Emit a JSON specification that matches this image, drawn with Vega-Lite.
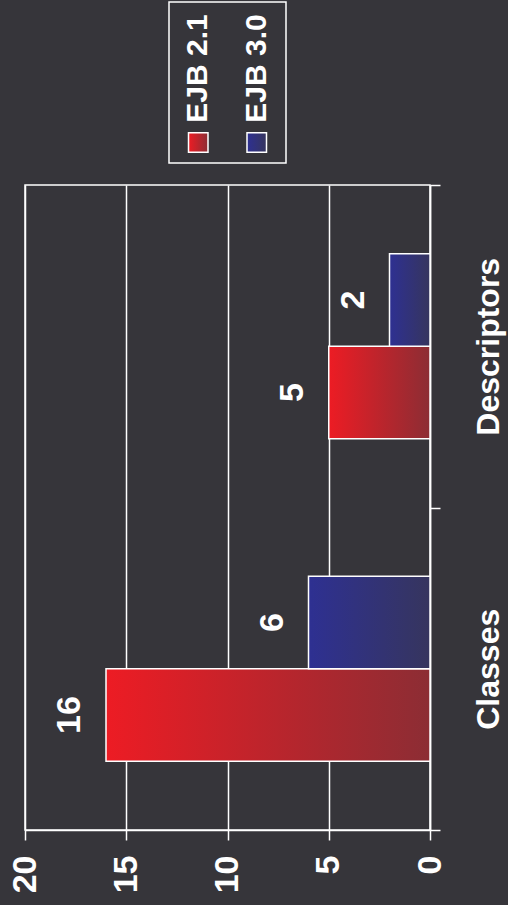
{
  "$schema": "https://vega.github.io/schema/vega-lite/v6.json",
  "autosize": "pad",
  "padding": {"left": 7, "top": 1, "right": 3, "bottom": 12},
  "background": "#36353A",
  "data": {
    "values": [
      {"category": "Classes", "series": "EJB 2.1", "value": 16},
      {"category": "Classes", "series": "EJB 3.0", "value": 6},
      {"category": "Descriptors", "series": "EJB 2.1", "value": 5},
      {"category": "Descriptors", "series": "EJB 3.0", "value": 2}
    ]
  },
  "bounds": "flush",
  "spacing": 183,
  "vconcat": [
    {
      "bounds": "flush",
      "spacing": 0,
      "hconcat": [
        {
          "width": 144,
          "height": 161,
          "data": {"values": []},
          "view": {"stroke": null},
          "mark": {"type": "point", "opacity": 0},
          "encoding": {}
        },
        {
          "width": 117,
          "height": 161,
          "transform": [{"aggregate": [{"op": "count", "as": "n"}], "groupby": ["series"]}],
          "encoding": {
            "x": {
              "field": "series",
              "type": "nominal",
              "sort": ["EJB 2.1", "EJB 3.0"],
              "scale": {"paddingInner": 0, "paddingOuter": 0},
              "axis": null
            }
          },
          "layer": [
            {
              "mark": {"type": "square", "size": 380, "filled": true, "stroke": "#FFFFFF", "strokeWidth": 1.5, "opacity": 1, "yOffset": 60},
              "encoding": {
                "fill": {
                  "condition": {
                    "test": "datum.series === 'EJB 2.1'",
                    "value": {"gradient": "linear", "x1": 0, "y1": 0, "x2": 1, "y2": 0,
                      "stops": [{"offset": 0, "color": "#ED1C24"}, {"offset": 1, "color": "#8C2D34"}]}
                  },
                  "value": {"gradient": "linear", "x1": 0, "y1": 0, "x2": 1, "y2": 0,
                    "stops": [{"offset": 0, "color": "#2E3092"}, {"offset": 1, "color": "#36355E"}]}
                }
              }
            },
            {
              "mark": {
                "type": "text",
                "angle": 270,
                "align": "center",
                "baseline": "middle",
                "dx": 14,
                "fontSize": 30,
                "fontWeight": "bold",
                "font": "Liberation Sans",
                "color": "#FFFFFF"
              },
              "encoding": {"text": {"field": "series", "type": "nominal"}}
            }
          ]
        }
      ]
    },
    {
      "width": 405,
      "height": 645,
      "encoding": {
        "y": {
          "field": "category",
          "type": "nominal",
          "sort": ["Descriptors", "Classes"],
          "scale": {"paddingInner": 0, "paddingOuter": 0},
          "axis": {
            "orient": "right",
            "title": null,
            "labelAngle": 270,
            "labelAlign": "center",
            "labelBaseline": "top",
            "tickBand": "extent",
            "tickSize": 10,
            "labelPadding": 33,
            "labelFontSize": 32,
            "labelLimit": 0,
            "grid": false
          }
        },
        "yOffset": {
          "field": "series",
          "type": "nominal",
          "sort": ["EJB 3.0", "EJB 2.1"],
          "scale": {"paddingInner": 0, "paddingOuter": 0.743}
        },
        "x": {
          "field": "value",
          "type": "quantitative",
          "scale": {"domain": [0, 20], "reverse": true, "nice": false},
          "axis": {
            "title": null,
            "values": [0, 5, 10, 15, 20],
            "labelAngle": 270,
            "labelAlign": "right",
            "labelBaseline": "middle",
            "labelPadding": 15,
            "tickSize": 10,
            "labelFontSize": 34,
            "grid": true
          }
        }
      },
      "layer": [
        {
          "mark": {"type": "bar", "stroke": "#FFFFFF", "strokeWidth": 1.5},
          "encoding": {
            "fill": {
              "condition": {
                "test": "datum.series === 'EJB 2.1'",
                "value": {"gradient": "linear", "x1": 0, "y1": 0, "x2": 1, "y2": 0,
                  "stops": [{"offset": 0, "color": "#ED1C24"}, {"offset": 1, "color": "#8C2D34"}]}
              },
              "value": {"gradient": "linear", "x1": 0, "y1": 0, "x2": 1, "y2": 0,
                "stops": [{"offset": 0, "color": "#2E3092"}, {"offset": 1, "color": "#36355E"}]}
            }
          }
        },
        {
          "mark": {
            "type": "text",
            "angle": 270,
            "align": "center",
            "baseline": "alphabetic",
            "dy": -26,
            "fontSize": 34,
            "fontWeight": "bold",
            "font": "Liberation Sans",
            "color": "#FFFFFF"
          },
          "encoding": {
            "text": {"field": "value", "type": "quantitative"}
          }
        }
      ]
    }
  ],
  "config": {
    "view": {"stroke": "#FFFFFF", "strokeWidth": 1.5},
    "axis": {
      "domainColor": "#FFFFFF",
      "domainWidth": 1.5,
      "tickColor": "#FFFFFF",
      "tickWidth": 1.5,
      "gridColor": "#FFFFFF",
      "gridWidth": 1.5,
      "gridOpacity": 1,
      "labelColor": "#FFFFFF",
      "labelFont": "Liberation Sans",
      "labelFontWeight": "bold"
    }
  }
}
